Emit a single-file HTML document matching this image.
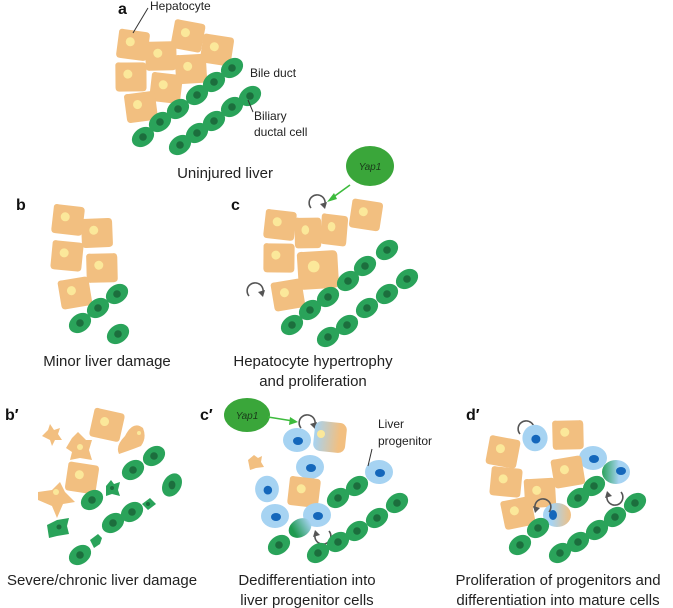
<!DOCTYPE html>
<html><head><meta charset="utf-8"><style>
html,body{margin:0;padding:0;background:#fff;}
svg{display:block;font-family:"Liberation Sans",sans-serif;}
.t{font-size:15px;fill:#222;text-anchor:middle;}
.s{font-size:12px;fill:#222;}
.b{font-size:16px;font-weight:bold;fill:#111;}
</style></head><body>
<svg width="673" height="608" viewBox="0 0 673 608" xmlns="http://www.w3.org/2000/svg">
<defs>
<g id="h"><path d="M-15,-13 Q-14,-16 -10,-15 L12,-14 Q16,-14 16,-10 L15,11 Q15,15 11,15 L-12,14 Q-16,14 -16,10z" fill="#f2bf80"/><circle cx="-3" cy="-3" r="4.5" fill="#fbe89a"/></g>
<g id="g"><ellipse rx="12" ry="9" fill="#2aa35a" transform="rotate(-35)"/><circle cx="0" cy="0" r="3.8" fill="#1c6e3d"/></g>
<g id="p"><ellipse rx="14" ry="12" fill="#a6d3f2"/><ellipse cx="1" cy="1" rx="5" ry="4" fill="#1467bb"/></g>
<linearGradient id="tb" x1="0" x2="1"><stop offset="0" stop-color="#a6d3f2"/><stop offset="0.8" stop-color="#f2bf80"/></linearGradient>
<linearGradient id="gb" x1="0" x2="1"><stop offset="0.2" stop-color="#1f9a50"/><stop offset="1" stop-color="#a6d3f2"/></linearGradient>
<linearGradient id="bg" x1="0" x2="1"><stop offset="0" stop-color="#2aa35a"/><stop offset="0.6" stop-color="#a6d3f2"/></linearGradient>
<linearGradient id="bt" x1="0" x2="1"><stop offset="0.3" stop-color="#a6d3f2"/><stop offset="1" stop-color="#f2bf80"/></linearGradient>
<g id="ca"><path d="M-7,4 A8,8 0 1 1 6,3" fill="none" stroke="#555" stroke-width="1.6"/><path d="M2,0 L7,5 L9,-2z" fill="#555"/></g>
</defs>

<!-- Panel a -->
<text x="118" y="14" class="b">a</text>
<use href="#h" transform="translate(133,45) rotate(5)"/>
<use href="#h" transform="translate(161,56) rotate(-4)"/>
<use href="#h" transform="translate(188,36) rotate(8)"/>
<use href="#h" transform="translate(217,50) rotate(6)"/>
<use href="#h" transform="translate(131,77) rotate(-3)"/>
<use href="#h" transform="translate(166,88) rotate(4)"/>
<use href="#h" transform="translate(191,69) rotate(-6)"/>
<use href="#h" transform="translate(141,107) rotate(-10)"/>
<use href="#g" x="143" y="137"/><use href="#g" x="160" y="122"/><use href="#g" x="178" y="109"/><use href="#g" x="197" y="95"/><use href="#g" x="214" y="82"/><use href="#g" x="232" y="68"/>
<use href="#g" x="180" y="145"/><use href="#g" x="197" y="133"/><use href="#g" x="214" y="121"/><use href="#g" x="232" y="107"/><use href="#g" x="250" y="96"/>
<text x="150" y="10" class="s">Hepatocyte</text>
<line x1="148" y1="8" x2="133" y2="33" stroke="#333" stroke-width="1"/>
<text x="250" y="77" class="s">Bile duct</text>
<text x="254" y="120" class="s">Biliary</text>
<text x="254" y="136" class="s">ductal cell</text>
<line x1="248" y1="100" x2="253" y2="112" stroke="#333" stroke-width="1"/>
<text x="225" y="178" class="t">Uninjured liver</text>

<!-- Panel b -->
<text x="16" y="210" class="b">b</text>
<use href="#h" transform="translate(68,220) rotate(4)"/>
<use href="#h" transform="translate(97,233) rotate(-5)"/>
<use href="#h" transform="translate(67,256) rotate(3)"/>
<use href="#h" transform="translate(102,268) rotate(-4)"/>
<use href="#h" transform="translate(75,293) rotate(-12)"/>
<use href="#g" x="80" y="323"/><use href="#g" x="98" y="308"/><use href="#g" x="117" y="294"/><use href="#g" x="118" y="334"/>
<text x="107" y="366" class="t">Minor liver damage</text>

<!-- Panel c -->
<text x="231" y="210" class="b">c</text>
<ellipse cx="370" cy="166" rx="24" ry="20" fill="#3aa63a"/>
<text x="370" y="170" font-size="10" font-style="italic" fill="#1a3a1a" text-anchor="middle">Yap1</text>
<line x1="350" y1="185" x2="332" y2="198" stroke="#3dbb3d" stroke-width="1.6"/><path d="M327,202 L334,193 L337,199z" fill="#3dbb3d"/>
<use href="#ca" x="318" y="204"/>
<use href="#ca" x="256" y="292"/>
<use href="#h" transform="translate(280,225) rotate(4)"/>
<use href="#h" transform="translate(308,233) scale(0.85,1.05) rotate(-3)"/>
<use href="#h" transform="translate(334,230) scale(0.85,1.05) rotate(3)"/>
<use href="#h" transform="translate(366,215) rotate(6)"/>
<use href="#h" transform="translate(279,258) rotate(-2)"/>
<use href="#h" transform="translate(318,270) scale(1.3,1.3) rotate(-6)"/>
<use href="#h" transform="translate(288,295) rotate(-12)"/>
<use href="#g" x="292" y="325"/><use href="#g" x="310" y="310"/><use href="#g" x="328" y="297"/><use href="#g" x="348" y="281"/><use href="#g" x="365" y="266"/><use href="#g" x="387" y="250"/>
<use href="#g" x="328" y="337"/><use href="#g" x="347" y="325"/><use href="#g" x="367" y="308"/><use href="#g" x="387" y="294"/><use href="#g" x="407" y="279"/>
<text x="313" y="366" class="t">Hepatocyte hypertrophy</text>
<text x="313" y="386" class="t">and proliferation</text>

<!-- Panel b' -->
<text x="5" y="420" class="b">b′</text>
<use href="#h" transform="translate(107,425) rotate(10)"/>
<path d="M125,436 q8,-16 18,-8 q4,10 -2,18 q-10,4 -22,8 q-4,-8 6,-18z" fill="#f2bf80"/><circle cx="139" cy="433" r="2" fill="#fbe89a"/>
<path d="M42,436 l6,-6 l2,-6 l4,6 l6,-2 l-2,6 l4,6 l-7,0 l-3,6 l-2,-6z" fill="#f2bf80"/>
<path d="M66,448 l6,-10 l6,-6 l8,8 l6,0 l-3,10 l3,10 l-12,-2 l-10,2 l2,-8z" fill="#f2bf80"/><circle cx="80" cy="447" r="3" fill="#fbe89a"/>
<use href="#h" transform="translate(82,478) rotate(6)"/>
<path d="M38,492 l14,-2 l8,-8 l5,10 l10,10 l-12,2 l-6,14 l-5,-12 l-14,-6z" fill="#f2bf80"/><circle cx="56" cy="492" r="3" fill="#fbe89a"/>
<path d="M47,525 l10,-5 l12,-2 l-2,8 l2,8 l-12,2 l-8,2z" fill="#2aa35a"/><circle cx="59" cy="527" r="2.5" fill="#1c6e3d"/>
<use href="#g" x="92" y="500"/>
<path d="M106,486 l5,-6 l3,4 l6,-2 l-2,8 l2,6 l-8,-2 l-6,2z" fill="#2aa35a"/><circle cx="112" cy="488" r="2" fill="#1c6e3d"/>
<use href="#g" x="133" y="470"/><use href="#g" x="154" y="456"/>
<use href="#g" x="80" y="555"/>
<path d="M90,540 l8,-6 l4,4 l-2,6 l-6,4z" fill="#2aa35a"/>
<use href="#g" x="113" y="523"/><use href="#g" x="132" y="512"/>
<path d="M142,504 l8,-6 l6,6 l-8,6z" fill="#2aa35a"/><circle cx="148" cy="504" r="2" fill="#1c6e3d"/>
<use href="#g" transform="translate(172,485) scale(0.9,1.15)"/>
<text x="102" y="585" class="t">Severe/chronic liver damage</text>

<!-- Panel c' -->
<text x="200" y="420" class="b">c′</text>
<ellipse cx="247" cy="415" rx="23" ry="17" fill="#3aa63a"/>
<text x="247" y="419" font-size="10" font-style="italic" fill="#1a3a1a" text-anchor="middle">Yap1</text>
<line x1="268" y1="417" x2="293" y2="421" stroke="#3dbb3d" stroke-width="1.6"/><path d="M298,422 L290,417 L289,425z" fill="#3dbb3d"/>
<use href="#ca" x="308" y="424"/>
<use href="#p" x="297" y="440"/>
<rect x="314" y="422" width="32" height="30" rx="7" fill="url(#tb)" transform="rotate(6 330 437)"/><circle cx="321" cy="434" r="4" fill="#fbe89a"/>
<use href="#p" x="310" y="467"/>
<path d="M248,460 l6,-5 l4,3 l4,-2 l-1,6 l3,5 l-8,1 l-6,2z" fill="#f2bf80"/>
<use href="#p" transform="translate(267,489) scale(0.85,1.1)"/>
<use href="#h" transform="translate(304,492) rotate(4)"/>
<use href="#p" x="275" y="516"/>
<use href="#p" x="317" y="515"/>
<ellipse cx="300" cy="528" rx="12" ry="9" fill="url(#gb)" transform="rotate(-30 300 528)"/>
<use href="#g" x="279" y="545"/>
<use href="#ca" transform="translate(322,535) rotate(180)"/>
<use href="#g" x="338" y="498"/><use href="#g" x="357" y="486"/>
<use href="#p" x="379" y="472"/>
<use href="#g" x="318" y="553"/><use href="#g" x="338" y="542"/><use href="#g" x="357" y="531"/><use href="#g" x="377" y="518"/><use href="#g" x="397" y="503"/>
<text x="378" y="428" class="s">Liver</text>
<text x="378" y="445" class="s">progenitor</text>
<line x1="372" y1="449" x2="368" y2="466" stroke="#333" stroke-width="1"/>
<text x="307" y="585" class="t">Dedifferentiation into</text>
<text x="307" y="605" class="t">liver progenitor cells</text>

<!-- Panel d' -->
<text x="466" y="420" class="b">d′</text>
<use href="#ca" x="527" y="430"/>
<use href="#h" transform="translate(503,452) rotate(8)"/>
<use href="#p" transform="translate(535,438) scale(0.9,1.1)"/>
<use href="#h" transform="translate(568,435) rotate(-4)"/>
<use href="#p" x="593" y="458"/>
<use href="#h" transform="translate(506,482) rotate(3)"/>
<use href="#h" transform="translate(568,472) rotate(-12)"/>
<ellipse cx="616" cy="472" rx="14" ry="12" fill="url(#bg)"/><ellipse cx="621" cy="471" rx="5" ry="4" fill="#1467bb"/>
<use href="#h" transform="translate(540,493) rotate(-6)"/>
<use href="#h" transform="translate(518,513) rotate(-14)"/>
<ellipse cx="557" cy="515" rx="14" ry="12" fill="url(#bt)"/><ellipse cx="553" cy="515" rx="4" ry="5" fill="#1467bb"/>
<use href="#ca" transform="translate(542,508) scale(-1,1)"/>
<use href="#ca" transform="translate(614,496) rotate(180)"/>
<use href="#g" x="520" y="545"/><use href="#g" x="538" y="528"/><use href="#g" x="578" y="498"/><use href="#g" x="594" y="486"/>
<use href="#g" x="560" y="553"/><use href="#g" x="578" y="542"/><use href="#g" x="597" y="530"/><use href="#g" x="615" y="517"/><use href="#g" x="635" y="503"/>
<text x="558" y="585" class="t">Proliferation of progenitors and</text>
<text x="558" y="605" class="t">differentiation into mature cells</text>
</svg>
</body></html>
